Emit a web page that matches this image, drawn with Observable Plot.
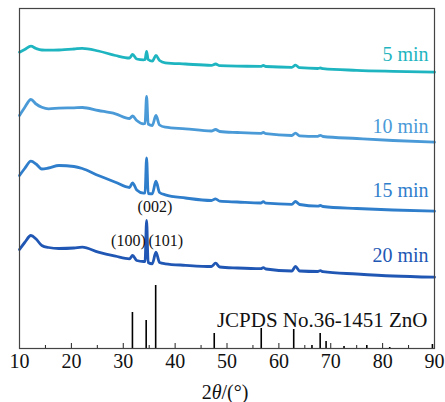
<!DOCTYPE html>
<html>
<head>
<meta charset="utf-8">
<script src="https://cdn.jsdelivr.net/npm/d3@7"></script>
<script src="https://cdn.jsdelivr.net/npm/@observablehq/plot@0.6"></script>
<style>
  html, body { margin: 0; padding: 0; background: #fff; }
</style>
</head>
<body>
<div id="chart"></div>
<script>
// 2θ sampling grid (degrees)
const twoTheta = [10, 11, 12.2, 13.2, 14.3, 15.6, 17.6, 20.5, 22.1, 25.2, 28.5, 31.2, 31.8, 32.6, 33.9, 34.2, 34.5, 34.8, 35.6, 36.3, 37.0, 38.1, 42, 47.0, 47.8, 48.6, 52, 56.5, 57, 57.5, 62.5, 63.2, 64, 67.5, 68, 68.5, 75, 82, 90];
// intensities (a.u., offset stacked)
const int5min  = [296.3, 299, 302.3, 300, 298.5, 298.3, 298.5, 299.5, 300.2, 297.5, 293, 290.5, 294, 289.5, 288.7, 289, 297, 289, 287.3, 293, 288, 285.7, 284.5, 283.2, 284.5, 282.8, 282.3, 282.2, 283, 282, 281.2, 283.3, 280.8, 280, 280.5, 279.8, 278.2, 277.2, 276.3];
const int10min = [233, 241, 249, 244.5, 241.3, 239.7, 240.3, 240.7, 241, 238, 234.7, 230, 232.5, 228, 224.7, 225, 252, 224.5, 223, 233, 223.5, 221.3, 219.7, 217.5, 219, 217, 216, 215.2, 216, 214.8, 213, 215.3, 212.7, 212.2, 213.2, 212, 210, 208, 206.3];
const int15min = [173, 180, 187.3, 184.5, 179.5, 180.5, 183, 182, 180, 173, 166.3, 161, 165.7, 158.5, 155.3, 155.5, 190.7, 155, 154.7, 167.3, 156, 153.7, 150.5, 148, 149.7, 147.3, 146.5, 145.5, 146.8, 145.3, 144.2, 147, 144, 142.3, 143, 142, 140, 138.5, 137.3];
const int20min = [99, 106, 113, 109.5, 103, 101, 100, 100.5, 101.3, 96.3, 92.3, 89.7, 93, 88, 87, 87, 128, 86, 84.7, 96.3, 86, 84.7, 83.2, 82, 85.3, 81.5, 80.5, 79.8, 80.8, 79.5, 77.5, 82, 77.5, 77, 77.8, 76.8, 74.5, 72.5, 71.3];
const seriesNames = ["5 min", "10 min", "15 min", "20 min"];
// JCPDS No.36-1451 ZnO reference lines
const stickPos = [31.77, 34.42, 36.25, 47.54, 56.60, 62.86, 66.38, 67.96, 69.10, 72.56, 76.95, 81.37, 89.60];
const stickInt = [36, 28, 63, 15, 20, 19, 3, 15, 7, 2, 3, 1, 4];
const hklLabels = ["(002)", "(100)", "(101)"];
const majorTicks = [10, 20, 30, 40, 50, 60, 70, 80, 90];
const minorTicks = [15, 25, 35, 45, 55, 65, 75, 85];

const colors = ["#1fb5c0", "#4a9ad8", "#2f7ecc", "#2157b4"];
const allSeries = [int5min, int10min, int15min, int20min];
const lineData = allSeries.flatMap((arr, i) => arr.map((v, j) => ({x: twoTheta[j], y: v, s: seriesNames[i]})));
const sticks = stickPos.map((p, i) => ({x: p, h: stickInt[i]}));

const labelPos = [{x: 88.85, y: 294}, {x: 88.85, y: 222}, {x: 88.85, y: 158}, {x: 88.85, y: 93}];
const labelData = seriesNames.map((s, i) => ({...labelPos[i], s, c: colors[i]}));
const hklPos = [{x: 36.1, y: 142}, {x: 31.0, y: 108}, {x: 38.2, y: 108}];
const hklData = hklLabels.map((t, i) => ({...hklPos[i], t}));

const font = "'Liberation Serif', 'Times New Roman', serif";

const chart = Plot.plot({
  width: 445,
  height: 402,
  marginLeft: 19,
  marginRight: 11,
  marginTop: 8,
  marginBottom: 54,
  style: {fontFamily: font, background: "#fff", color: "#000"},
  x: {domain: [10, 90], axis: null},
  y: {domain: [0, 340], axis: null},
  color: {domain: seriesNames, range: colors},
  marks: [
    Plot.ruleX(majorTicks, {x: d => d, y1: 0, y2: 5, stroke: "#222", strokeWidth: 1}),
    Plot.ruleX(minorTicks, {x: d => d, y1: 0, y2: 3, stroke: "#222", strokeWidth: 1}),
    Plot.ruleX(sticks, {x: "x", y1: 0, y2: "h", stroke: "#000", strokeWidth: 1.6}),
    Plot.line(lineData, {x: "x", y: "y", z: "s", stroke: "s", strokeWidth: 2.8, strokeLinejoin: "round", curve: "monotone-x"}),
    Plot.text(labelData, {x: "x", y: "y", text: "s", fill: "c", textAnchor: "end", lineAnchor: "middle", fontSize: 20}),
    Plot.text(hklData, {x: "x", y: "y", text: "t", fill: "#111", lineAnchor: "middle", fontSize: 16}),
    Plot.text(["JCPDS No.36-1451 ZnO"], {x: 88.65, y: 28, text: d => d, textAnchor: "end", lineAnchor: "middle", fontSize: 21, fill: "#111"}),
    Plot.text(majorTicks, {x: d => d, y: 0, dy: 13, text: d => String(d), lineAnchor: "middle", fontSize: 20, fill: "#111"}),
    Plot.text(["2θ/(°)"], {frameAnchor: "bottom", dx: -2, dy: 44, text: d => d, lineAnchor: "middle", fontSize: 20, fill: "#111"}),
    Plot.frame({stroke: "#444", strokeWidth: 1.2})
  ]
});

// italicise θ in axis label
d3.select(chart).selectAll("text").each(function() {
  const t = d3.select(this);
  if (t.text() === "2θ/(°)") {
    t.text(null);
    t.append("tspan").text("2");
    t.append("tspan").attr("font-style", "italic").text("θ");
    t.append("tspan").text("/(°)");
  }
});

document.getElementById("chart").appendChild(chart);
</script>
</body>
</html>
